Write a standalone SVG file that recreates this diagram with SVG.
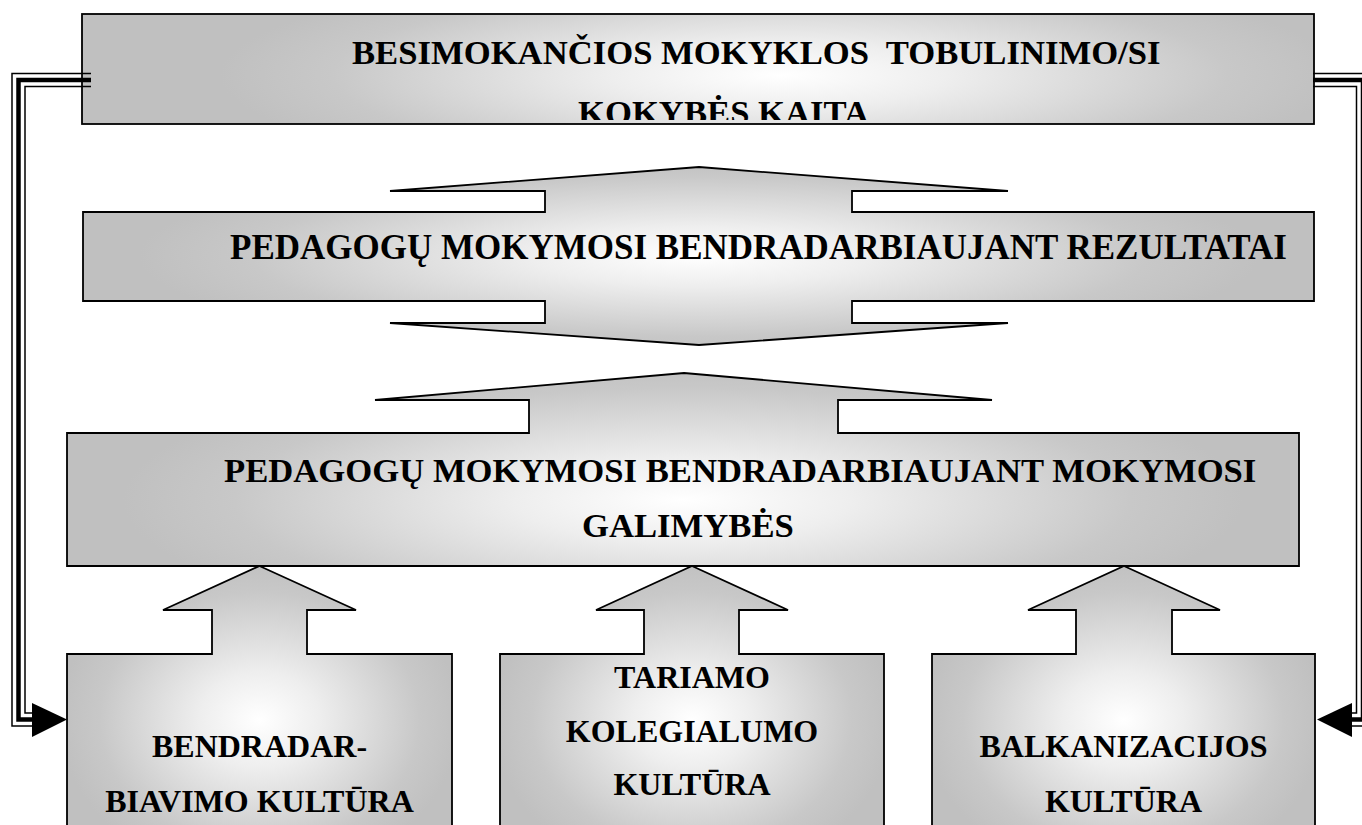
<svg xmlns="http://www.w3.org/2000/svg" width="1362" height="825" viewBox="0 0 1362 825">
<style>
.shape{stroke:#000;stroke-width:1.8;stroke-linejoin:miter}
.t{font-family:"Liberation Serif","Times New Roman",serif;font-weight:bold;fill:#000}
.big{font-size:34.67px}
.small{font-size:32px;text-anchor:middle}
.thin{fill:none;stroke:#000;stroke-width:1.5}
.thick{fill:none;stroke:#000;stroke-width:4.5}
</style>
<defs>
<radialGradient id="gTop" gradientUnits="userSpaceOnUse" cx="0" cy="0" r="1" gradientTransform="translate(780,75) scale(560,110)">
<stop offset="0" stop-color="#ffffff"/><stop offset="0.3" stop-color="#eeeeee"/><stop offset="0.8" stop-color="#c8c8c8"/><stop offset="1" stop-color="#c0c0c0"/>
</radialGradient>
<radialGradient id="gMid" gradientUnits="userSpaceOnUse" cx="0" cy="0" r="1" gradientTransform="translate(699,256) scale(560,100)">
<stop offset="0" stop-color="#ffffff"/><stop offset="0.3" stop-color="#eeeeee"/><stop offset="0.8" stop-color="#c8c8c8"/><stop offset="1" stop-color="#c0c0c0"/>
</radialGradient>
<radialGradient id="gLow" gradientUnits="userSpaceOnUse" cx="0" cy="0" r="1" gradientTransform="translate(683,500) scale(560,140)">
<stop offset="0" stop-color="#ffffff"/><stop offset="0.3" stop-color="#eeeeee"/><stop offset="0.8" stop-color="#c8c8c8"/><stop offset="1" stop-color="#c0c0c0"/>
</radialGradient>
<radialGradient id="gA" gradientUnits="userSpaceOnUse" cx="0" cy="0" r="1" gradientTransform="translate(259.5,720) scale(200,160)">
<stop offset="0" stop-color="#ffffff"/><stop offset="0.3" stop-color="#eeeeee"/><stop offset="0.8" stop-color="#c8c8c8"/><stop offset="1" stop-color="#c0c0c0"/>
</radialGradient>
<radialGradient id="gB" gradientUnits="userSpaceOnUse" cx="0" cy="0" r="1" gradientTransform="translate(692,720) scale(200,160)">
<stop offset="0" stop-color="#ffffff"/><stop offset="0.3" stop-color="#eeeeee"/><stop offset="0.8" stop-color="#c8c8c8"/><stop offset="1" stop-color="#c0c0c0"/>
</radialGradient>
<radialGradient id="gC" gradientUnits="userSpaceOnUse" cx="0" cy="0" r="1" gradientTransform="translate(1123.5,720) scale(200,160)">
<stop offset="0" stop-color="#ffffff"/><stop offset="0.3" stop-color="#eeeeee"/><stop offset="0.8" stop-color="#c8c8c8"/><stop offset="1" stop-color="#c0c0c0"/>
</radialGradient>
<clipPath id="clipTop"><rect x="83" y="15" width="1230" height="105"/></clipPath>
</defs>
<rect width="1362" height="825" fill="#fff"/>

<g id="node-kokybes-kaita">
<rect class="shape" x="82" y="14" width="1232" height="110" fill="url(#gTop)"/>
<g clip-path="url(#clipTop)">
<text class="t big" x="352" y="64" xml:space="preserve">BESIMOKANČIOS MOKYKLOS  TOBULINIMO/SI</text>
<text class="t big" x="578" y="124">KOKYBĖS KAITA</text>
</g>
</g>

<g id="node-rezultatai">
<path class="shape" fill="url(#gMid)" d="M699,167 L1008,191 L852,191 L852,212 L1314,212 L1314,301 L852,301 L852,323 L1008,323 L699,345 L390,323 L545,323 L545,301 L83,301 L83,212 L545,212 L545,191 L390,191 Z"/>
<text class="t" style="font-size:35px" x="230" y="259">PEDAGOGŲ MOKYMOSI BENDRADARBIAUJANT REZULTATAI</text>
</g>

<g id="node-galimybes">
<path class="shape" fill="url(#gLow)" d="M684,373 L992,400 L838,400 L838,433 L1299,433 L1299,566 L67,566 L67,433 L529,433 L529,400 L375,400 Z"/>
<text class="t big" x="224" y="482">PEDAGOGŲ MOKYMOSI BENDRADARBIAUJANT MOKYMOSI</text>
<text class="t big" x="582" y="537">GALIMYBĖS</text>
</g>

<g id="node-bendradarbiavimo">
<path class="shape" fill="url(#gA)" d="M259.5,566 L356,610 L307,610 L307,654 L452,654 L452,860 L67,860 L67,654 L212,654 L212,610 L163,610 Z"/>
<text class="t small" x="259.5" y="757">BENDRADAR-</text>
<text class="t small" x="259.5" y="812">BIAVIMO KULTŪRA</text>
</g>

<g id="node-tariamo">
<path class="shape" fill="url(#gB)" d="M692,566 L788,610 L739,610 L739,654 L884,654 L884,860 L500,860 L500,654 L644,654 L644,610 L596,610 Z"/>
<text class="t small" x="692" y="688">TARIAMO</text>
<text class="t small" x="692" y="742">KOLEGIALUMO</text>
<text class="t small" x="692" y="795">KULTŪRA</text>
</g>

<g id="node-balkanizacijos">
<path class="shape" fill="url(#gC)" d="M1124,566 L1220,610 L1172,610 L1172,654 L1315,654 L1315,860 L932,860 L932,654 L1076,654 L1076,610 L1028,610 Z"/>
<text class="t small" x="1123.5" y="757">BALKANIZACIJOS</text>
<text class="t small" x="1123.5" y="812">KULTŪRA</text>
</g>

<g id="connectors">
<polyline class="thick" points="91,80 18.5,80 18.5,719.5 36,719.5"/>
<polyline class="thin" points="91,73.5 12,73.5 12,726 36,726"/>
<polyline class="thin" points="91,86.5 25,86.5 25,713 36,713"/>
<polygon points="32,703 67,719.5 32,737" fill="#000"/>
<polyline class="thick" points="1313,80 1363,80 1363,719.5 1348,719.5"/>
<polyline class="thin" points="1313,73.5 1369.5,73.5 1369.5,726 1348,726"/>
<polyline class="thin" points="1313,86.5 1356.5,86.5 1356.5,713 1348,713"/>
<polygon points="1352,703 1317,719.5 1352,737" fill="#000"/>
</g>
</svg>
